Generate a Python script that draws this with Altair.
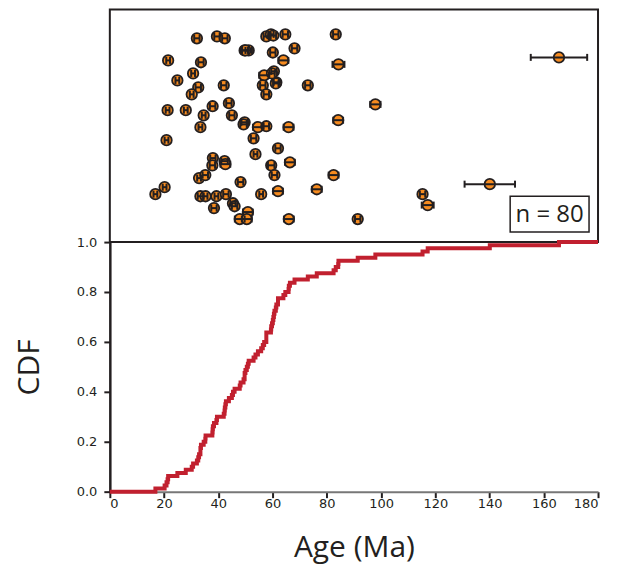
import altair as alt
import pandas as pd

# ---- data ----
ages = [32.1, 39.5, 42.4, 21.5, 33.6, 30.7, 24.9, 49.7, 51.2, 60.1,
        57.7, 59.4, 56.9, 60.5, 56.4, 57.7, 61.4, 32.6, 30.2, 42.0,
        21.3, 28.0, 37.9, 43.9, 34.6, 45.0, 49.7, 54.6, 57.7, 33.4,
        53.0, 62.0, 20.9, 53.7, 38.0, 37.8, 42.3, 42.6, 59.5, 60.7,
        32.9, 35.2, 48.2, 20.2, 16.8, 33.4, 35.3, 39.3, 42.8, 45.4,
        46.0, 38.4, 55.8, 62.0, 50.9, 47.9, 50.5, 64.7, 83.3, 68.1,
        64.0, 84.3, 73.0, 97.9, 84.2, 65.9, 66.4, 82.5, 76.3, 66.0,
        91.4, 115.3, 117.2, 140.1, 165.6, 49.3, 50.0, 59.8, 60.3, 61.2]
errors = [1.0, 1.0, 1.0, 0.7, 1.0, 0.7, 0.7, 1.2, 1.2, 1.0,
          1.0, 1.0, 1.8, 1.0, 1.0, 1.0, 1.0, 1.0, 0.7, 1.0,
          0.7, 0.7, 1.0, 1.0, 0.7, 1.0, 1.2, 1.8, 1.0, 0.7,
          1.0, 1.0, 0.7, 0.7, 1.0, 1.0, 1.2, 1.8, 1.2, 1.0,
          0.7, 1.0, 1.0, 0.7, 0.7, 1.0, 0.7, 0.7, 1.0, 1.0,
          1.0, 1.0, 0.7, 1.8, 1.8, 1.8, 1.8, 1.0, 1.0, 1.0,
          1.8, 2.2, 1.0, 1.9, 1.8, 1.8, 1.8, 1.8, 1.8, 1.8,
          1.0, 1.0, 2.2, 9.3, 10.4, 1.2, 1.2, 1.0, 1.0, 1.0]
# vertical scatter position in the upper panel (0 = bottom, 1 = top)
rows = [0.876, 0.884, 0.876, 0.781, 0.773, 0.725, 0.695, 0.824, 0.824, 0.815,
        0.884, 0.893, 0.717, 0.734, 0.674, 0.635, 0.687, 0.665, 0.635, 0.674,
        0.567, 0.567, 0.584, 0.597, 0.545, 0.545, 0.515, 0.494, 0.498, 0.494,
        0.446, 0.403, 0.438, 0.378, 0.361, 0.330, 0.348, 0.335, 0.330, 0.288,
        0.275, 0.288, 0.258, 0.236, 0.206, 0.197, 0.197, 0.197, 0.206, 0.167,
        0.154, 0.146, 0.206, 0.219, 0.129, 0.099, 0.099, 0.893, 0.893, 0.833,
        0.781, 0.764, 0.674, 0.592, 0.524, 0.494, 0.343, 0.288, 0.227, 0.099,
        0.099, 0.206, 0.159, 0.249, 0.794, 0.506, 0.824, 0.725, 0.888, 0.682]
age_ticks = [0, 20, 40, 60, 80, 100, 120, 140, 160, 180]
cdf_ticks = [0.0, 0.2, 0.4, 0.6, 0.8, 1.0]

ORANGE = "#F68B1F"
DARK = "#231F20"
RED = "#C1202F"

N = len(ages)
pts = pd.DataFrame({"age": ages, "err": errors, "pos": rows})
pts["lo"] = pts["age"] - pts["err"]
pts["hi"] = pts["age"] + pts["err"]

s = sorted(ages)
cdf = pd.DataFrame({"age": [age_ticks[0]] + s + [age_ticks[-1]],
                    "cdf": [0.0] + [(i + 1) / N for i in range(N)] + [1.0]})

xs = alt.Scale(domain=[age_ticks[0], age_ticks[-1]], nice=False, zero=False)
ys_top = alt.Scale(domain=[0, 1], nice=False)

base = alt.Chart(pts)
circles = base.mark_circle(fill=ORANGE, stroke=DARK, strokeWidth=1.8,
                           size=110, opacity=1).encode(
    x=alt.X("age:Q", scale=xs, axis=None),
    y=alt.Y("pos:Q", scale=ys_top, axis=None))
bars = base.mark_rule(color=DARK, strokeWidth=2).encode(
    x="lo:Q", x2="hi:Q", y="pos:Q")
cap_lo = base.mark_tick(orient="vertical", color=DARK, thickness=2,
                        size=7, opacity=1).encode(x="lo:Q", y="pos:Q")
cap_hi = base.mark_tick(orient="vertical", color=DARK, thickness=2,
                        size=7, opacity=1).encode(x="hi:Q", y="pos:Q")

lab = pd.DataFrame({"t": ["n = " + str(N)]})
box = alt.Chart(lab).mark_rect(fill="white", stroke=DARK, strokeWidth=1.5).encode(
    x=alt.value(401), x2=alt.value(480), y=alt.value(187), y2=alt.value(223))
label = alt.Chart(lab).mark_text(font="Open Sans", fontSize=24, color=DARK,
                                 baseline="middle", align="center").encode(
    x=alt.value(440.5), y=alt.value(206), text="t:N")

top = alt.layer(circles, bars, cap_lo, cap_hi, box, label).properties(
    width=489, height=233,
    view=alt.ViewBackground(stroke=DARK, strokeWidth=2))

axis_common = dict(grid=False,
                   tickColor=DARK, tickWidth=2, tickSize=6,
                   labelFont="DejaVu Sans", labelFontSize=13, labelColor=DARK,
                   titleFont="Open Sans", titleFontSize=30,
                   titleFontWeight="normal", titleColor=DARK)

bottom = alt.Chart(cdf).mark_line(interpolate="step-after", color=RED,
                                  strokeWidth=4).encode(
    x=alt.X("age:Q", scale=xs,
            axis=alt.Axis(values=age_ticks, title="Age (Ma)", labelPadding=0,
                          titlePadding=22, domainColor="#777777", domainWidth=2,
                          **axis_common)),
    y=alt.Y("cdf:Q", scale=alt.Scale(domain=[0, 1], nice=False),
            axis=alt.Axis(values=cdf_ticks, format=".1f", title="CDF",
                          labelPadding=7, titlePadding=32, domainColor=DARK,
                          domainWidth=2.5, **axis_common))
).properties(width=489, height=250,
             view=alt.ViewBackground(strokeWidth=0))

chart = alt.vconcat(top, bottom, spacing=0, bounds="flush").properties(
    padding={"left": 6, "top": 0, "right": 5, "bottom": 5})

chart.save("out.html", embed_options={"renderer": "svg", "actions": False})
